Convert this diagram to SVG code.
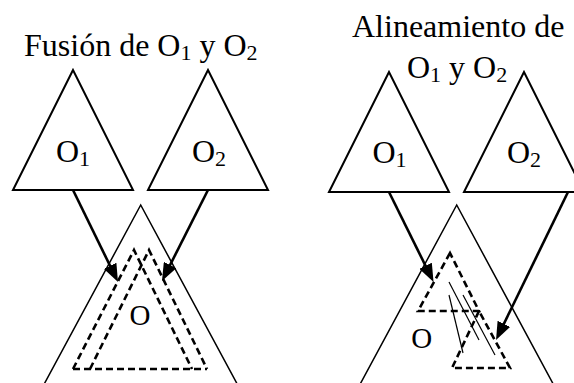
<svg xmlns="http://www.w3.org/2000/svg" width="574" height="383" viewBox="0 0 574 383">
<style>
.t{font-family:"Liberation Serif","Times New Roman",serif;font-size:32px;fill:#000}
.sub{font-size:22px}
.tri{fill:none;stroke:#000;stroke-width:2;stroke-linejoin:miter}
.big{fill:none;stroke:#000;stroke-width:1.5}
.dash{fill:none;stroke:#000;stroke-width:2.6;stroke-dasharray:7 4}
.thin{fill:none;stroke:#000;stroke-width:1.2}
.arr{fill:none;stroke:#000;stroke-width:2.6}
</style>
<defs>
<marker id="ah" viewBox="0 0 18 14" refX="8" refY="7" markerWidth="18" markerHeight="14" markerUnits="userSpaceOnUse" orient="auto">
<path d="M0,0 L18,7 L0,14 z" fill="#000"/>
</marker>
</defs>
<rect width="574" height="383" fill="#fff"/>

<g id="title-fusion">
<text class="t" x="24" y="56">Fusión de O<tspan class="sub" dy="3.5">1</tspan><tspan dy="-3.5"> y O</tspan><tspan class="sub" dy="3.5">2</tspan></text>
</g>
<g id="title-alineamiento">
<text class="t" x="352" y="37">Alineamiento de</text>
<text class="t" x="407" y="78">O<tspan class="sub" dy="3.5">1</tspan><tspan dy="-3.5"> y O</tspan><tspan class="sub" dy="3.5">2</tspan></text>
</g>

<g id="left-O1">
<polygon class="tri" points="73,70 13,190 133,190"/>
<text class="t" x="73" y="162" text-anchor="middle">O<tspan class="sub" dy="3.5">1</tspan></text>
</g>
<g id="left-O2">
<polygon class="tri" points="208,70 148,190 268,190"/>
<text class="t" x="209" y="162" text-anchor="middle">O<tspan class="sub" dy="3.5">2</tspan></text>
</g>
<g id="left-O">
<polygon class="big" points="140.7,205 24.8,420 256.6,420"/>
<path class="dash" d="M73,369 L134,250 L192,369"/>
<path class="dash" d="M90,369 L149,250 L207,369"/>
<path class="dash" d="M73,369 L207,369"/>
<text class="t" x="140" y="325" text-anchor="middle" style="font-size:29px">O</text>
</g>

<g id="right-O1">
<polygon class="tri" points="389,72 329,192 449,192"/>
<text class="t" x="389.5" y="163" text-anchor="middle">O<tspan class="sub" dy="3.5">1</tspan></text>
</g>
<g id="right-O2">
<polygon class="tri" points="524,72 464,192 584,192"/>
<text class="t" x="524" y="163" text-anchor="middle">O<tspan class="sub" dy="3.5">2</tspan></text>
</g>
<g id="right-O">
<polygon class="big" points="456.7,205 340.8,420 572.6,420"/>
<polygon class="dash" points="450,253 418,311 479,311"/>
<polygon class="dash" points="479,311 452,368 510,368"/>
<line class="thin" x1="449" y1="282" x2="479" y2="340"/>
<line class="thin" x1="449" y1="295" x2="463" y2="353"/>
<line class="thin" x1="463" y1="295" x2="495" y2="355"/>
<text class="t" x="421.7" y="348" text-anchor="middle" style="font-size:29px">O</text>
</g>

<g id="connectors">
<line class="arr" x1="73" y1="190" x2="113.6" y2="273" marker-end="url(#ah)"/>
<line class="arr" x1="208" y1="190" x2="166.5" y2="272.1" marker-end="url(#ah)"/>
<line class="arr" x1="389" y1="192" x2="429.1" y2="273" marker-end="url(#ah)"/>
<line class="arr" x1="568" y1="192" x2="500.4" y2="331" marker-end="url(#ah)"/>
</g>
</svg>
